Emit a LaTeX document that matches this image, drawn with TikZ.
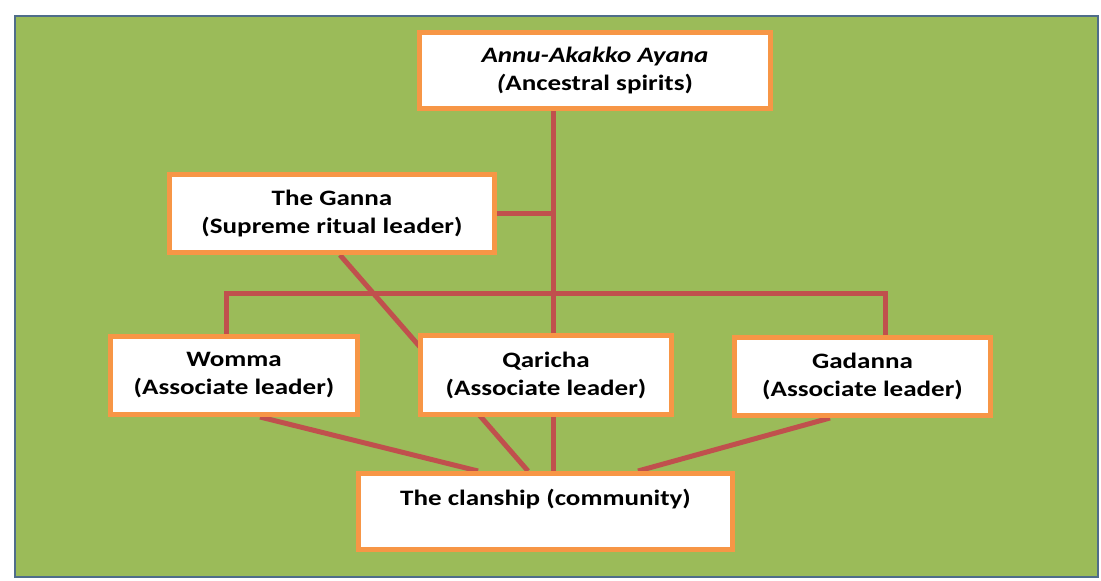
\documentclass[tikz,border=0pt]{standalone}
\usepackage{fontspec}
\setmainfont{Carlito}
\newfontfamily\rolefont[FakeStretch=1.23]{Carlito}
\usetikzlibrary{positioning,backgrounds,calc}
\definecolor{olivebg}{HTML}{9BBB59}
\definecolor{frameline}{HTML}{4F6D8A}
\definecolor{boxedge}{HTML}{F79646}
\definecolor{linkred}{HTML}{C0504D}
\begin{document}
\begin{tikzpicture}[
    x=1pt, y=-1pt,
    role/.style={draw=boxedge, line width=5pt, fill=white, align=center,
                 font=\rolefont\fontsize{22}{28}\selectfont\bfseries, inner sep=0pt,
                 minimum width=#1, minimum height=78pt},
    role/.default=251pt,
    link/.style={draw=linkred, line width=5pt},
]
  \useasboundingbox (0,0) rectangle (1101,581);
  % ---------------- panel ----------------
  \begin{scope}[on background layer]
    \fill[olivebg] (15,16) rectangle (1098,577);
    \draw[frameline, line width=2pt] (15,16) rectangle (1098,577);
  \end{scope}

  % ---------------- roles ----------------
  \node[role=351pt, minimum height=76pt] (spirits) at (595,70.5)
       {\textit{Annu-Akakko Ayana}\\\textit{(}Ancestral spirits)};
  \node[role=325pt] (ganna) at (332,213.5) {The Ganna\\(Supreme ritual leader)};
  \node[role=247pt] (womma) at (234,375.5) {Womma\\(Associate leader)};
  \node[role=251pt, minimum height=79pt] (qaricha) at (546,375) {Qaricha\\(Associate leader)};
  \node[role=256pt] (gadanna) at (862.5,376.5) {Gadanna\\(Associate leader)};
  \node[role=374pt, minimum height=76pt] (clan) at (545.5,511.5) {The clanship (community)\\\mbox{}};

  % ---------------- connectors ----------------
  \coordinate (trunk) at ([xshift=-42pt]spirits.south);
  \coordinate (bus) at (trunk |- 0,293);
  \begin{scope}[on background layer]
    % spirits -> clanship
    \draw[link] (trunk) -- (trunk |- clan.north);
    \draw[link] (ganna.east) -- (ganna.east -| trunk);
    % associate leaders bar
    \draw[link] ([xshift=-8pt]womma.north) |- (bus) -| ([xshift=22.5pt]gadanna.north);
    % leaders -> clanship
    \draw[link] ([xshift=8pt]ganna.south) -- ([xshift=-17.5pt]clan.north);
    \draw[link] ([xshift=26pt]womma.south) -- ([xshift=-67.5pt]clan.north);
    \draw[link] ([xshift=-32.5pt]gadanna.south) -- ([xshift=92.5pt]clan.north);
  \end{scope}
\end{tikzpicture}
\end{document}
